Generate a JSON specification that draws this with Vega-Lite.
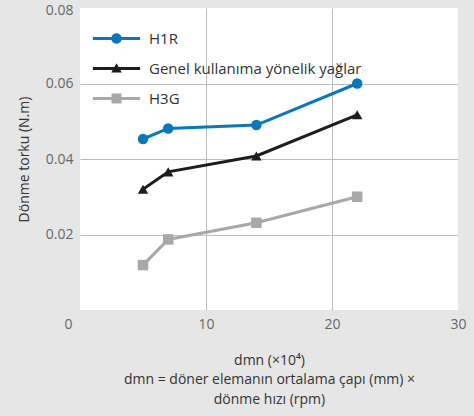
{
  "$schema": "https://vega.github.io/schema/vega-lite/v6.json",
  "width": 378,
  "height": 302,
  "autosize": {"type": "none"},
  "padding": {"left": 80, "top": 8, "right": 16, "bottom": 106},
  "background": "#e6e6e6",
  "view": {"fill": "white", "stroke": null},
  "config": {"font": "Open Sans"},
  "data": {"values": [
    {"series": "H1R", "dmn": 5.0, "torque": 0.0453},
    {"series": "H1R", "dmn": 7.0, "torque": 0.0481},
    {"series": "H1R", "dmn": 14.0, "torque": 0.0490},
    {"series": "H1R", "dmn": 22.0, "torque": 0.0600},
    {"series": "Genel kullanıma yönelik yağlar", "dmn": 5.0, "torque": 0.0320},
    {"series": "Genel kullanıma yönelik yağlar", "dmn": 7.0, "torque": 0.0366},
    {"series": "Genel kullanıma yönelik yağlar", "dmn": 14.0, "torque": 0.0408},
    {"series": "Genel kullanıma yönelik yağlar", "dmn": 22.0, "torque": 0.0517},
    {"series": "H3G", "dmn": 5.0, "torque": 0.0119},
    {"series": "H3G", "dmn": 7.0, "torque": 0.0187},
    {"series": "H3G", "dmn": 14.0, "torque": 0.0231},
    {"series": "H3G", "dmn": 22.0, "torque": 0.0300}
  ]},
  "encoding": {
    "x": {
      "field": "dmn", "type": "quantitative",
      "scale": {"domain": [0, 30], "nice": false},
      "axis": {
        "values": [0, 10, 20, 30],
        "domain": false, "ticks": false,
        "gridColor": "#bdbdbd",
        "gridOpacity": {"condition": {"test": "datum.value === 0 || datum.value === 30", "value": 0}, "value": 1},
        "labelOffset": {"condition": {"test": "datum.value === 0", "value": -12}, "value": 0},
        "labelFontSize": 14, "labelColor": "#666666", "labelPadding": 7,
        "labelFlush": false,
        "title": ["dmn (×10⁴)", "dmn = döner elemanın ortalama çapı (mm) ×", "dönme hızı (rpm)"],
        "titleFontSize": 14, "titleFontWeight": "normal", "titleColor": "#333333",
        "titlePadding": 22, "titleLineHeight": 19.5
      }
    },
    "y": {
      "field": "torque", "type": "quantitative",
      "scale": {"domain": [0, 0.08], "nice": false},
      "axis": {
        "values": [0.02, 0.04, 0.06, 0.08],
        "format": ".2f",
        "domain": false, "ticks": false,
        "gridColor": "#bdbdbd",
        "gridOpacity": {"condition": {"test": "datum.value > 0.07", "value": 0}, "value": 1},
        "labelOffset": {"condition": {"test": "datum.value > 0.07", "value": 2}, "value": 0},
        "labelFontSize": 14, "labelColor": "#666666", "labelPadding": 7,
        "labelFlush": false,
        "title": "Dönme torku (N.m)",
        "titleFontSize": 14, "titleFontWeight": "normal", "titleColor": "#333333",
        "titlePadding": 14
      }
    },
    "color": {
      "field": "series", "type": "nominal",
      "scale": {"domain": ["H1R", "Genel kullanıma yönelik yağlar", "H3G"], "range": ["#0a78b8", "#1d1d1b", "#a8a8a8"]},
      "legend": {
        "title": null,
        "orient": "none",
        "legendX": 29,
        "legendY": 23,
        "padding": 0,
        "symbolSize": 110,
        "symbolStrokeWidth": 0,
        "labelFontSize": 15,
        "labelColor": "#333333",
        "labelOffset": 25,
        "labelLimit": 400,
        "rowPadding": 14,
        "encoding": {
          "symbols": {
            "shape": {"value": {"expr": "datum.value === 'H1R' ? 'M-4.5,-0.29H4.5V0.29H-4.5Z M1,0A1,1 0 1,1 -1,0A1,1 0 1,1 1,0Z' : datum.value === 'H3G' ? 'M-4.5,-0.29H4.5V0.29H-4.5Z M-0.95,-0.95H0.95V0.95H-0.95Z' : 'M-4.5,-0.29H4.5V0.29H-4.5Z M0,-1L1,0.75L-1,0.75Z'"}},
            "fill": {"value": {"expr": "scale('color', datum.value)"}},
            "strokeWidth": {"value": 0},
            "opacity": {"value": 1}
          }
        }
      }
    }
  },
  "layer": [
    {
      "mark": {"type": "line", "strokeWidth": 3},
      "encoding": {"detail": {"field": "series"}}
    },
    {
      "transform": [{"filter": "datum.series === 'H1R'"}],
      "mark": {"type": "point", "filled": true, "opacity": 1, "size": 110, "shape": "circle"}
    },
    {
      "transform": [{"filter": "datum.series === 'Genel kullanıma yönelik yağlar'"}],
      "mark": {"type": "point", "filled": true, "opacity": 1, "size": 110, "shape": "triangle-up"}
    },
    {
      "transform": [{"filter": "datum.series === 'H3G'"}],
      "mark": {"type": "point", "filled": true, "opacity": 1, "size": 110, "shape": "square"}
    }
  ]
}
